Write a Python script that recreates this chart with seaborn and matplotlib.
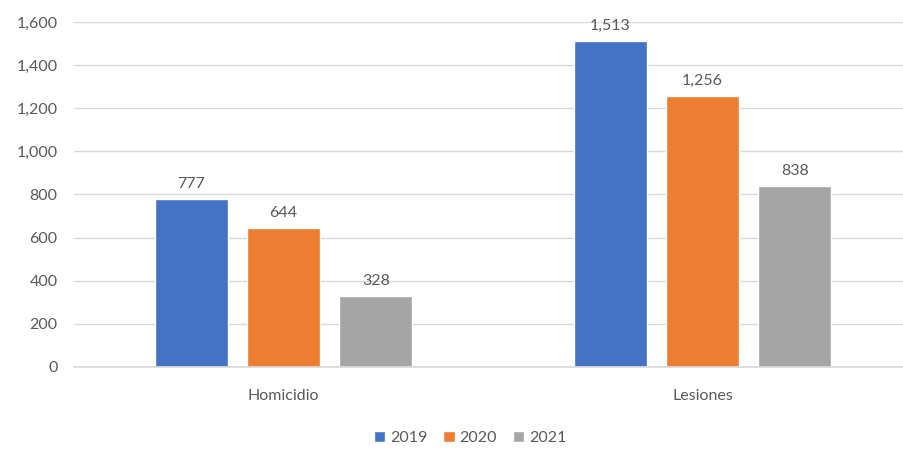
import pandas as pd
import matplotlib.pyplot as plt
import seaborn as sns

# data
categories = ['Homicidio', 'Lesiones']
years = ['2019', '2020', '2021']
homicidio = [777, 644, 328]
lesiones = [1513, 1256, 838]
colors = ['#4472C4', '#ED7D31', '#A5A5A5']

df = pd.DataFrame({
    'delito': ['Homicidio'] * 3 + ['Lesiones'] * 3,
    'anio': years * 2,
    'valor': homicidio + lesiones,
})

sns.set_theme(style='white')
plt.rcParams['font.family'] = ['Lato', 'DejaVu Sans']
text_color = '#595959'

fig = plt.figure(figsize=(9.04, 4.49), dpi=100)
ax = fig.add_axes([0.082, 0.183, 0.927, 0.768])

sns.barplot(data=df, x='delito', y='valor', hue='anio', order=categories,
            hue_order=years, palette=colors, width=0.66, gap=0.21,
            saturation=1, ax=ax)

for cont in ax.containers:
    ax.bar_label(cont, labels=[f'{v:,.0f}' for v in cont.datavalues],
                 padding=6, fontsize=11.5, color=text_color)

ax.set_xlim(-0.5, 1.5)
ax.set_ylim(0, 1600)
ax.set_yticks(range(0, 1601, 200))
ax.set_yticklabels([f'{v:,}' for v in range(0, 1601, 200)])
ax.yaxis.grid(True, color='#D9D9D9', linewidth=1)
ax.set_axisbelow(True)
for s in ['top', 'right', 'left']:
    ax.spines[s].set_visible(False)
ax.spines['bottom'].set_color('#D9D9D9')
ax.tick_params(axis='both', length=0, labelsize=11.5, colors=text_color)
ax.tick_params(axis='x', pad=16)
ax.tick_params(axis='y', pad=12)
ax.set_xlabel('')
ax.set_ylabel('')

ax.legend(loc='center', bbox_to_anchor=(0.52 / 1.0, -0.1), ncol=3,
          frameon=False, handlelength=0.7, handleheight=0.7,
          handletextpad=0.3, columnspacing=1.0, fontsize=11.5,
          bbox_transform=fig.transFigure, labelcolor=text_color)
ax.get_legend().set_bbox_to_anchor((0.52, 0.025), transform=fig.transFigure)

plt.savefig('out.png', dpi=100)
